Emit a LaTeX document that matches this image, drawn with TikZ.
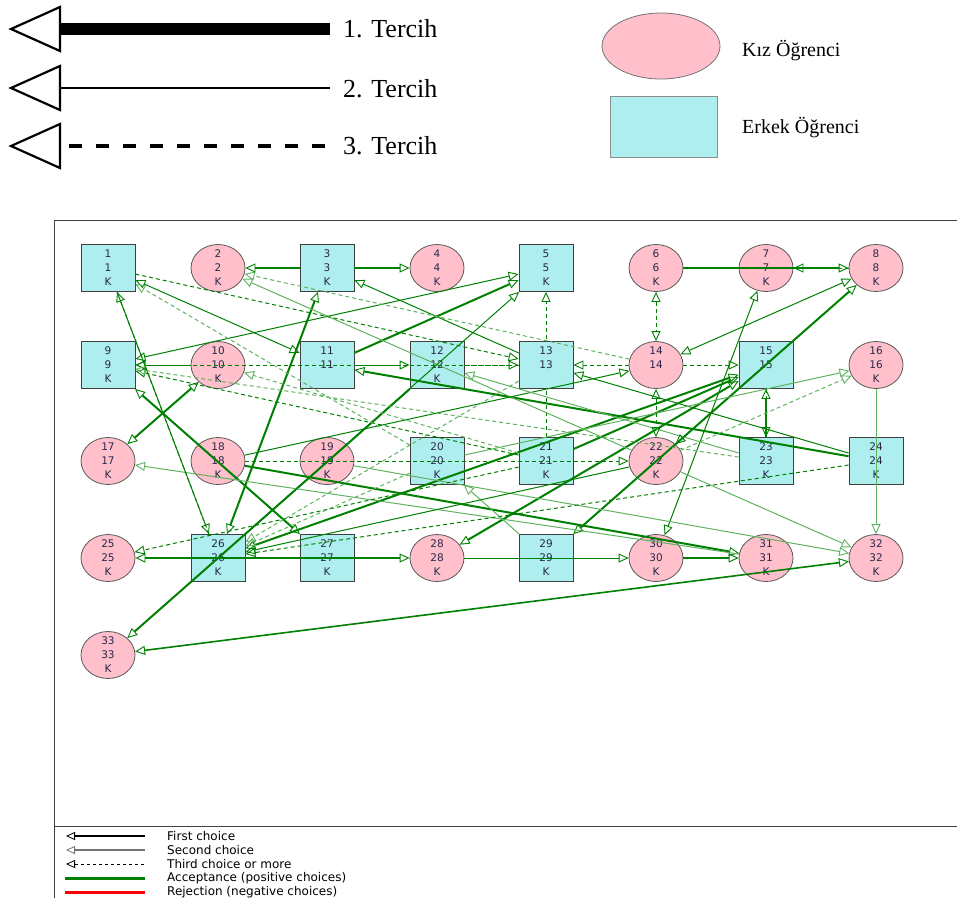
\documentclass[tikz,border=0pt]{standalone}
\usepackage{fontspec}
\setmainfont{Liberation Serif}
\newfontfamily\dv{DejaVu Sans}
\usetikzlibrary{arrows.meta,shapes.geometric,backgrounds}
\definecolor{dg}{RGB}{0,128,0}
\definecolor{lg}{RGB}{95,178,95}
\definecolor{pinkf}{RGB}{255,192,203}
\definecolor{cyanf}{RGB}{175,238,238}
\definecolor{txt}{RGB}{40,40,75}
\tikzset{
  opentip/.tip={Triangle[open,length=10pt,width=9pt,line width=0.9pt]},
  smalltip/.tip={Triangle[open,length=9pt,width=8pt,line width=0.8pt]},
}
\begin{document}
\begin{tikzpicture}[x=1pt,y=-1pt,
  boy/.style={draw=black!75,line width=0.8pt,fill=cyanf,minimum width=54pt,minimum height=47pt,inner sep=0pt,align=center,font=\dv\fontsize{10.5}{14}\selectfont,text=txt},
  girl/.style={ellipse,draw=black!65,line width=0.8pt,fill=pinkf,minimum width=54pt,minimum height=47pt,inner xsep=0pt,inner ysep=-6pt,align=center,font=\dv\fontsize{10.5}{14}\selectfont,text=txt},
  ch1/.style={draw=dg,line width=2pt,-opentip},
  ch2/.style={draw=dg,line width=1pt,-opentip},
  ch3/.style={draw=dg,line width=1pt,dash pattern=on 4pt off 3pt,-opentip},
  lite/.style={draw=lg},
  mutual/.style={opentip-opentip},
  legtxt/.style={anchor=base west,font=\fontsize{26}{30}\selectfont,inner sep=0pt},
  legtxtb/.style={anchor=base west,font=\fontsize{20}{24}\selectfont,inner sep=0pt},
  keytxt/.style={anchor=west,font=\dv\fontsize{12}{14}\selectfont,inner sep=0pt},
]
\path[use as bounding box] (0,0) rectangle (957,898);

% ---------- top legend ----------
\draw[line width=12pt] (60,29) -- (330,29);
\draw[line width=2.2pt,line join=miter] (60,7) -- (11,29) -- (60,51) -- cycle;
\node[legtxt] (t1) at (343,37) {1. Tercih};
\draw[line width=2.7pt] (60,88) -- (330,88);
\draw[line width=2.2pt,line join=miter] (60,66) -- (11,88) -- (60,110) -- cycle;
\node[legtxt] (t2) at (343,97) {2. Tercih};
\draw[line width=4pt,dash pattern=on 13pt off 14pt,dash phase=-9pt] (60,146) -- (332,146);
\draw[line width=2.2pt,line join=miter] (60,124) -- (11,146) -- (60,168) -- cycle;
\node[legtxt] (t3) at (343,154) {3. Tercih};

\draw[fill=pinkf,draw=black!55,line width=0.8pt] (661,46) ellipse [x radius=59,y radius=33];
\node[legtxtb] (kiz) at (742,56) {Kız Öğrenci};
\draw[fill=cyanf,draw=black!45,line width=0.8pt] (610,96) rectangle (717,157);
\node[legtxtb] (erk) at (742,133) {Erkek Öğrenci};

% ---------- frame ----------
\draw[black!75,line width=1pt] (957,220) -- (54,220) -- (54,898);
\draw[black!75,line width=1pt] (54,826) -- (957,826);

% ---------- nodes ----------
\node[boy]  (n1)  at (108,268) {1\\1\\K};
\node[girl] (n2)  at (218,268) {2\\2\\K};
\node[boy]  (n3)  at (327,268) {3\\3\\K};
\node[girl] (n4)  at (437,268) {4\\4\\K};
\node[boy]  (n5)  at (546,268) {5\\5\\K};
\node[girl] (n6)  at (656,268) {6\\6\\K};
\node[girl] (n7)  at (766,268) {7\\7\\K};
\node[girl] (n8)  at (876,268) {8\\8\\K};
\node[boy]  (n9)  at (108,365) {9\\9\\K};
\node[girl] (n10) at (218,365) {10\\10\\K};
\node[boy]  (n11) at (327,365) {11\\11\\\phantom{K}};
\node[boy]  (n12) at (437,365) {12\\12\\K};
\node[boy]  (n13) at (546,365) {13\\13\\\phantom{K}};
\node[girl] (n14) at (656,365) {14\\14\\\phantom{K}};
\node[boy]  (n15) at (766,365) {15\\15\\\phantom{K}};
\node[girl] (n16) at (876,365) {16\\16\\K};
\node[girl] (n17) at (108,461) {17\\17\\K};
\node[girl] (n18) at (218,461) {18\\18\\K};
\node[girl] (n19) at (327,461) {19\\19\\K};
\node[boy]  (n20) at (437,461) {20\\20\\K};
\node[boy]  (n21) at (546,461) {21\\21\\K};
\node[girl] (n22) at (656,461) {22\\22\\K};
\node[boy]  (n23) at (766,461) {23\\23\\K};
\node[boy]  (n24) at (876,461) {24\\24\\K};
\node[girl] (n25) at (108,558) {25\\25\\K};
\node[boy]  (n26) at (218,558) {26\\26\\K};
\node[boy]  (n27) at (327,558) {27\\27\\K};
\node[girl] (n28) at (437,558) {28\\28\\K};
\node[boy]  (n29) at (546,558) {29\\29\\K};
\node[girl] (n30) at (656,558) {30\\30\\K};
\node[girl] (n31) at (766,558) {31\\31\\K};
\node[girl] (n32) at (876,558) {32\\32\\K};
\node[girl] (n33) at (108,655) {33\\33\\K};

\begin{pgfonlayer}{background}
\draw[ch3] (n21) -- (n5);
\end{pgfonlayer}

% ---------- first choices ----------
\draw[ch1] (n3) -- (n2);
\draw[ch1] (n3) -- (n4);
\draw[ch1] (n6) -- (n8);
\draw[ch1] (n11) -- (n5);
\draw[ch1,mutual] (n26) -- (n3);
\draw[ch1,mutual] (n10) -- (n17);
\draw[ch1,mutual] (n9) -- (n27);
\draw[ch1] (n24) -- (n11);
\draw[ch1,mutual] (n29) -- (n8);
\draw[ch1,mutual] (n15) -- (n26);
\draw[ch1,mutual] (n28) -- (n15);
\draw[ch1] (n21) -- (n15);
\draw[ch1] (n18) -- (n31);
\draw[ch1] (n30) -- (n31);
\draw[ch1] (n27) -- (n25);
\draw[ch1] (n26) -- (n28);
\draw[ch1] (n12) -- (n33);
\draw[ch2,line width=1.6pt,mutual] (n32) -- (n33);
\draw[ch2,line width=1.6pt] (n23) -- (n15);

% ---------- second choices ----------
\draw[ch2,mutual] (n1) -- (n11);
\draw[ch2,mutual] (n9) -- (n5);
\draw[ch2] (n13) -- (n3);
\draw[ch2,lite] (n22) -- (n2);
\draw[ch2,mutual] (n14) -- (n8);
\draw[ch2,mutual] (n30) -- (n7);
\draw[ch2] (n24) -- (n13);
\draw[ch2,lite] (n16) -- (n32);
\draw[ch2,lite] (n20) -- (n16);
\draw[ch2] (n18) -- (n14);
\draw[ch2] (n1) -- (n26);
\draw[ch2,lite] (n31) -- (n17);
\draw[ch2,lite] (n22) -- (n32);
\draw[ch2,lite] (n19) -- (n32);
\draw[ch2,lite] (n29) -- (n20);
\draw[ch2] (n11) -- (n12);
\draw[ch2] (n10) -- (n9);
\draw[ch2] (n28) -- (n30);
\draw[ch2] (n26) -- (n5);
\draw[ch2,lite] (n23) -- (n12);
\draw[ch2] (n22) -- (n26);

% ---------- third choices ----------
\draw[ch3] (n8) -- (n7);
\draw[ch3,mutual] (n6) -- (n14);
\draw[ch3,mutual] (n14) -- (n22);
\draw[ch3] (n1) -- (n13);
\draw[ch3] (n12) -- (n13);
\draw[ch3] (n14) -- (n13);
\draw[ch3] (n14) -- (n15);
\draw[ch3] (n13) -- (n9);
\draw[ch3] (n21) -- (n9);
\draw[ch3,lite] (n23) -- (n9);
\draw[ch3,lite] (n21) -- (n10);
\draw[ch3] (n26) -- (n1);
\draw[ch3,lite] (n20) -- (n1);
\draw[ch3,lite] (n14) -- (n2);
\draw[ch3] (n15) -- (n23);
\draw[ch3,lite] (n22) -- (n16);
\draw[ch3] (n18) -- (n22);
\draw[ch3] (n24) -- (n26);
\draw[ch3] (n21) -- (n25);
\draw[ch3,lite] (n13) -- (n26);
\draw[ch3] (n15) -- (n22);
\draw[ch3,lite] (n20) -- (n26);

% ---------- bottom key ----------
\coordinate (ka1) at (66,836); \coordinate (kb1) at (145,836);
\coordinate (ka2) at (66,850); \coordinate (kb2) at (145,850);
\coordinate (ka3) at (66,864); \coordinate (kb3) at (145,864);
\coordinate (ka4) at (65,878); \coordinate (kb4) at (145,878);
\coordinate (ka5) at (65,892); \coordinate (kb5) at (145,892);
\draw[line width=2.6pt,smalltip-] (ka1) -- (kb1);
\draw[line width=1.2pt,black!55,smalltip-] (ka2) -- (kb2);
\draw[line width=0.9pt,dash pattern=on 3pt off 3pt,smalltip-] (ka3) -- (kb3);
\draw[line width=3pt,dg] (ka4) -- (kb4);
\draw[line width=3pt,red] (ka5) -- (kb5);
\node[keytxt] (k1) at (167,836) {First choice};
\node[keytxt] (k2) at (167,850) {Second choice};
\node[keytxt] (k3) at (167,864) {Third choice or more};
\node[keytxt] (k4) at (167,878) {Acceptance (positive choices)};
\node[keytxt] (k5) at (167,892) {Rejection (negative choices)};
\end{tikzpicture}
\end{document}
